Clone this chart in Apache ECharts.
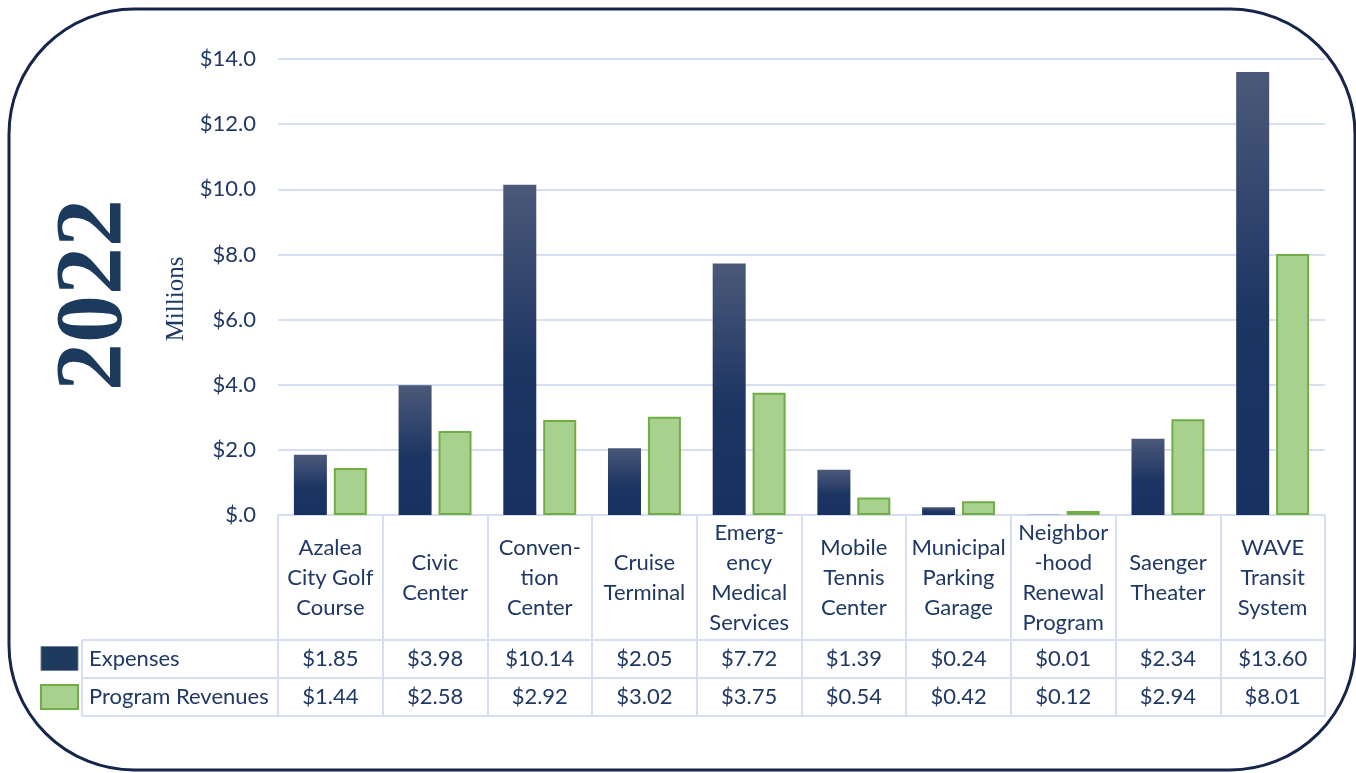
<!DOCTYPE html>
<html>
<head>
<meta charset="utf-8">
<script src="https://cdn.jsdelivr.net/npm/echarts@6/dist/echarts.min.js"></script>
<style>
html,body{margin:0;padding:0;background:#fff;}
#chart{width:1356px;height:773px;}
</style>
</head>
<body>
<div id="chart"></div>
<script>
// ---- data ----
var categories = [
  'Azalea\nCity Golf\nCourse',
  'Civic\nCenter',
  'Conven-\ntion\nCenter',
  'Cruise\nTerminal',
  'Emerg-\nency\nMedical\nServices',
  'Mobile\nTennis\nCenter',
  'Municipal\nParking\nGarage',
  'Neighbor\n-hood\nRenewal\nProgram',
  'Saenger\nTheater',
  'WAVE\nTransit\nSystem'
];
var expenses = [1.85, 3.98, 10.14, 2.05, 7.72, 1.39, 0.24, 0.01, 2.34, 13.60];
var programRevenues = [1.44, 2.58, 2.92, 3.02, 3.75, 0.54, 0.42, 0.12, 2.94, 8.01];
var seriesNames = ['Expenses', 'Program Revenues'];
var yTicks = [0, 2, 4, 6, 8, 10, 12, 14];
var yearLabel = '2022';
var unitLabel = 'Millions';

// ---- layout ----
var W = 1356, H = 773;
var gridLeft = 278, gridRight = 1325, gridTop = 59, gridBottom = 515;
var headerH = 125, rowH = 38;
var tableLeft = 82;
var txt = '#1f3864';
var lineC = '#d6dff2';
var font = 'Lato, "Open Sans", sans-serif';
var fs = 22;

var chart = echarts.init(document.getElementById('chart'), null, {renderer: 'canvas'});

function fmt(v){ return '$' + v.toFixed(2); }

var row1 = gridBottom + headerH, row2 = row1 + rowH, row3 = row2 + rowH;

var option = {
  backgroundColor: '#fff',
  animation: false,
  grid: {left: gridLeft, right: W - gridRight, top: gridTop, bottom: H - gridBottom, containLabel: false, outerBoundsMode: 'none'},
  legend: {
    orient: 'vertical', left: 35, top: row1 + 1, itemWidth: 37, itemHeight: 24, itemGap: 13,
    selectedMode: false,
    textStyle: {color: txt, fontSize: fs, fontFamily: font, lineHeight: 24, padding: [0, 0, 0, 6]},
    data: [
      {name: seriesNames[0], icon: 'rect', itemStyle: {color: '#1e3b5e', borderColor: '#6f7f95', borderWidth: 1}},
      {name: seriesNames[1], icon: 'rect', itemStyle: {color: '#a9d18e', borderColor: '#70ad47', borderWidth: 2}}
    ]
  },
  xAxis: [
    {
      type: 'category', data: categories, position: 'bottom',
      axisLine: {show: true, lineStyle: {color: lineC, width: 2}},
      axisTick: {show: true, interval: 0, length: headerH + 2 * rowH, lineStyle: {color: lineC, width: 2}},
      axisLabel: {interval: 0, color: txt, fontSize: fs, fontFamily: font, lineHeight: 30, verticalAlign: 'middle', align: 'center', margin: headerH / 2},
      splitLine: {show: false}
    },
    {
      type: 'category', data: categories, position: 'bottom', offset: headerH,
      axisLine: {show: true, lineStyle: {color: lineC, width: 2}},
      axisTick: {show: false},
      axisLabel: {interval: 0, color: txt, fontSize: fs, fontFamily: font, verticalAlign: 'middle', margin: rowH / 2,
        formatter: function(v, i){ return fmt(expenses[i]); }}
    },
    {
      type: 'category', data: categories, position: 'bottom', offset: headerH + rowH,
      axisLine: {show: true, lineStyle: {color: lineC, width: 2}},
      axisTick: {show: false},
      axisLabel: {interval: 0, color: txt, fontSize: fs, fontFamily: font, verticalAlign: 'middle', margin: rowH / 2,
        formatter: function(v, i){ return fmt(programRevenues[i]); }}
    },
    {
      type: 'category', data: categories, position: 'bottom', offset: headerH + 2 * rowH,
      axisLine: {show: true, lineStyle: {color: lineC, width: 2}},
      axisTick: {show: false},
      axisLabel: {show: false}
    }
  ],
  yAxis: {
    type: 'value', min: yTicks[0], max: yTicks[yTicks.length - 1], interval: 2,
    name: unitLabel, nameLocation: 'middle', nameRotate: 90, nameGap: 89,
    nameTextStyle: {color: txt, fontSize: 25, fontFamily: '"Liberation Serif", "DejaVu Serif", serif', padding: [0, 24, 0, 0]},
    axisLine: {show: false}, axisTick: {show: false},
    axisLabel: {color: txt, fontSize: fs, fontFamily: font, margin: 22,
      formatter: function(v){ return v === 0 ? '$.0' : '$' + v.toFixed(1); }},
    splitLine: {show: true, lineStyle: {color: lineC, width: 2}}
  },
  series: [
    {
      name: seriesNames[0], type: 'bar', data: expenses, barWidth: 33, barGap: '21%',
      itemStyle: {color: new echarts.graphic.LinearGradient(0, 0, 0, 1, [
        {offset: 0, color: '#4b5979'}, {offset: 0.55, color: '#1d3563'}, {offset: 1, color: '#193160'}])}
    },
    {
      name: seriesNames[1], type: 'bar', data: programRevenues, barWidth: 33,
      itemStyle: {color: '#a9d18e', borderColor: '#70ad47', borderWidth: 2}
    }
  ],
  graphic: [
    {type: 'rect', shape: {x: 9, y: 9, width: 1346, height: 761, r: 125}, style: {fill: 'none', stroke: '#15264a', lineWidth: 3}, z: 100},
    {type: 'line', shape: {x1: tableLeft, y1: row1, x2: gridLeft, y2: row1}, style: {stroke: lineC, lineWidth: 2}},
    {type: 'line', shape: {x1: tableLeft, y1: row2, x2: gridLeft, y2: row2}, style: {stroke: lineC, lineWidth: 2}},
    {type: 'line', shape: {x1: tableLeft, y1: row3, x2: gridLeft, y2: row3}, style: {stroke: lineC, lineWidth: 2}},
    {type: 'line', shape: {x1: tableLeft, y1: row1, x2: tableLeft, y2: row3}, style: {stroke: lineC, lineWidth: 2}},
    {type: 'text', x: 96, y: 295, rotation: Math.PI / 2,
      style: {text: yearLabel, fill: '#1b3a5c', font: 'bold 96px "Liberation Serif", "DejaVu Serif", serif', align: 'center', verticalAlign: 'middle'}}
  ]
};
chart.setOption(option);
</script>
</body>
</html>
